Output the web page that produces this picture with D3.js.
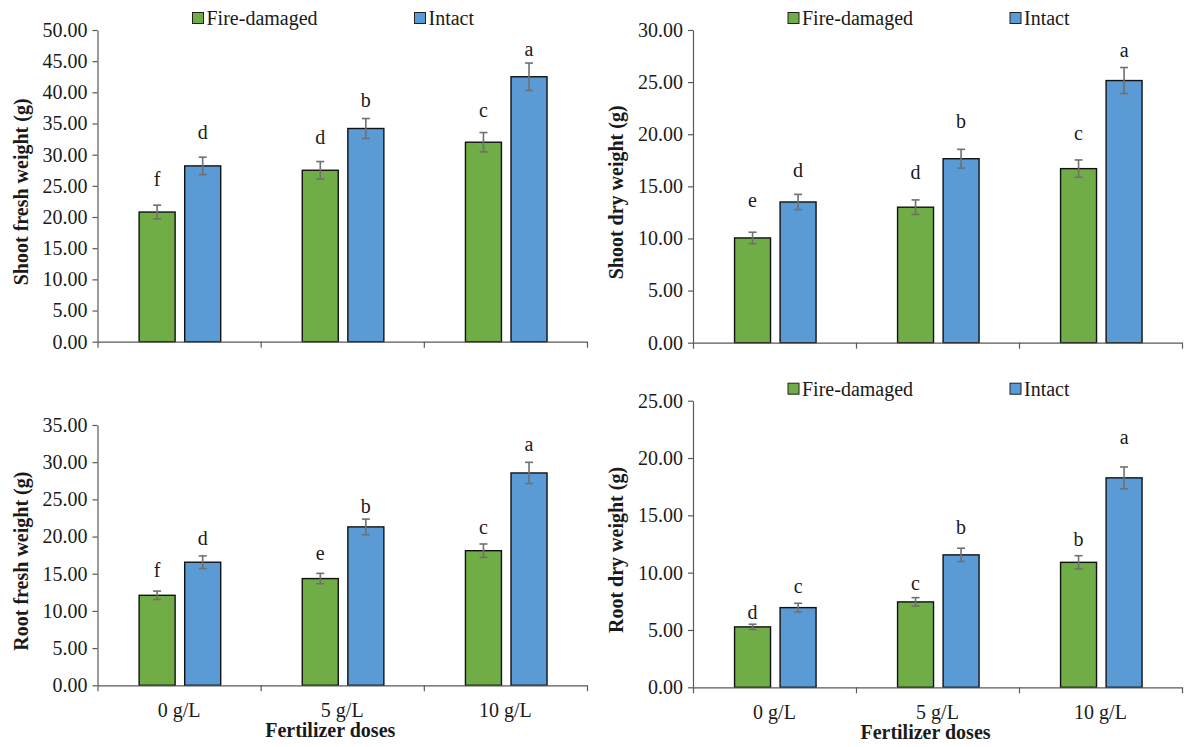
<!DOCTYPE html>
<html>
<head>
<meta charset="utf-8">
<script src="https://cdn.jsdelivr.net/npm/d3@7"></script>
<style>
  body { margin: 0; background: #fff; }
  svg text { font-family: "Liberation Serif", "Times New Roman", serif; fill: #1a1a1a; }
</style>
</head>
<body>
<svg id="root" width="1192" height="747"></svg>
<script>
// categories and series
const doses = ["0 g/L", "5 g/L", "10 g/L"]
const series = ["Fire-damaged", "Intact"]

// Shoot fresh weight (g)
const shootFreshFire = [20.8, 27.5, 32.0]
const shootFreshIntact = [28.2, 34.2, 42.5]
const shootFreshFireErr = [1.1, 1.4, 1.55]
const shootFreshIntactErr = [1.4, 1.6, 2.2]
const shootFreshFireLetters = ["f", "d", "c"]
const shootFreshIntactLetters = ["d", "b", "a"]
const shootFreshFireLetterAt = [25.0, 31.7, 36.1]
const shootFreshIntactLetterAt = [32.5, 37.6, 45.8]

// Shoot dry weight (g)
const shootDryFire = [10.05, 13.0, 16.7]
const shootDryIntact = [13.5, 17.65, 25.15]
const shootDryFireErr = [0.55, 0.7, 0.83]
const shootDryIntactErr = [0.73, 0.9, 1.25]
const shootDryFireLetters = ["e", "d", "c"]
const shootDryIntactLetters = ["d", "b", "a"]
const shootDryFireLetterAt = [13.0, 15.7, 19.45]
const shootDryIntactLetterAt = [15.9, 20.6, 27.4]

// Root fresh weight (g)
const rootFreshFire = [12.1, 14.35, 18.1]
const rootFreshIntact = [16.55, 21.3, 28.55]
const rootFreshFireErr = [0.57, 0.7, 0.9]
const rootFreshIntactErr = [0.85, 1.05, 1.43]
const rootFreshFireLetters = ["f", "e", "c"]
const rootFreshIntactLetters = ["d", "b", "a"]
const rootFreshFireLetterAt = [14.6, 16.9, 20.35]
const rootFreshIntactLetterAt = [18.85, 23.2, 31.5]

// Root dry weight (g)
const rootDryFire = [5.27, 7.45, 10.9]
const rootDryIntact = [6.95, 11.55, 18.27]
const rootDryFireErr = [0.23, 0.37, 0.58]
const rootDryIntactErr = [0.38, 0.58, 0.95]
const rootDryFireLetters = ["d", "c", "b"]
const rootDryIntactLetters = ["c", "b", "a"]
const rootDryFireLetterAt = [6.0, 8.5, 12.3]
const rootDryIntactLetterAt = [8.2, 13.4, 21.2]

// y axis ticks: [max, step]
const shootFreshTicks = [50, 5]
const shootDryTicks = [30, 5]
const rootFreshTicks = [35, 5]
const rootDryTicks = [25, 5]

const colors = { "Fire-damaged": "#70AD47", "Intact": "#5B9BD5" }
const fmt = d3.format(".2f")

function rows(fire, intact, fireErr, intactErr, fireLet, intactLet, fireAt, intactAt) {
  return doses.map((d, i) => ({
    dose: d,
    bars: [
      { s: series[0], v: fire[i], e: fireErr[i], l: fireLet[i], at: fireAt[i] },
      { s: series[1], v: intact[i], e: intactErr[i], l: intactLet[i], at: intactAt[i] }
    ]
  }))
}

const panels = [
  { title: "Shoot fresh weight (g)", ticks: shootFreshTicks, legend: true, xlabels: false,
    box: { left: 97.5, right: 587, top: 30, bottom: 341.7 },
    data: rows(shootFreshFire, shootFreshIntact, shootFreshFireErr, shootFreshIntactErr,
      shootFreshFireLetters, shootFreshIntactLetters, shootFreshFireLetterAt, shootFreshIntactLetterAt) },
  { title: "Shoot dry weight (g)", ticks: shootDryTicks, legend: true, xlabels: false,
    box: { left: 693, right: 1182, top: 30, bottom: 342.7 },
    data: rows(shootDryFire, shootDryIntact, shootDryFireErr, shootDryIntactErr,
      shootDryFireLetters, shootDryIntactLetters, shootDryFireLetterAt, shootDryIntactLetterAt) },
  { title: "Root fresh weight (g)", ticks: rootFreshTicks, legend: false, xlabels: true,
    box: { left: 97.5, right: 587, top: 425, bottom: 685.3 },
    data: rows(rootFreshFire, rootFreshIntact, rootFreshFireErr, rootFreshIntactErr,
      rootFreshFireLetters, rootFreshIntactLetters, rootFreshFireLetterAt, rootFreshIntactLetterAt) },
  { title: "Root dry weight (g)", ticks: rootDryTicks, legend: true, xlabels: true,
    box: { left: 693, right: 1182, top: 400.7, bottom: 687.3 },
    data: rows(rootDryFire, rootDryIntact, rootDryFireErr, rootDryIntactErr,
      rootDryFireLetters, rootDryIntactLetters, rootDryFireLetterAt, rootDryIntactLetterAt) }
]

const svg = d3.select("#root")

function drawPanel(p) {
  const b = p.box
  const g = svg.append("g")

  const x0 = d3.scaleBand().domain(doses).range([b.left, b.right]).padding(0)
  const bw = x0.bandwidth()
  const x1 = d3.scaleBand().domain(series).range([bw * 0.255, bw * 0.755]).paddingInner(0.21)
  const y = d3.scaleLinear().domain([0, p.ticks[0]]).range([b.bottom, b.top])

  // y axis
  const yAxis = d3.axisLeft(y)
    .tickValues(d3.range(0, p.ticks[0] + 0.001, p.ticks[1]))
    .tickFormat(fmt)
    .tickSize(5).tickSizeOuter(0).tickPadding(5)
  const ya = g.append("g").attr("transform", `translate(${b.left},0)`).call(yAxis)
  ya.selectAll("path, line").attr("stroke", "#595959").attr("stroke-width", 1.2)
  ya.selectAll("text").style("font-size", "20px").attr("fill", "#1a1a1a")

  // x axis: ticks at category boundaries
  const xb = d3.scaleLinear().domain([0, doses.length]).range([b.left, b.right])
  const xAxis = d3.axisBottom(xb).tickValues(d3.range(0, doses.length + 1))
    .tickFormat("").tickSize(6).tickSizeOuter(0)

  // bars
  const grp = g.selectAll(".grp").data(p.data).join("g")
    .attr("transform", d => `translate(${x0(d.dose)},0)`)
  grp.selectAll("rect").data(d => d.bars).join("rect")
    .attr("x", d => x1(d.s))
    .attr("y", d => y(d.v))
    .attr("width", x1.bandwidth())
    .attr("height", d => y(0) - y(d.v))
    .attr("fill", d => colors[d.s])
    .attr("stroke", "#111")
    .attr("stroke-width", 1.4)

  // error bars
  const cx = d => x1(d.s) + x1.bandwidth() / 2
  const eb = grp.selectAll(".err").data(d => d.bars).join("g").attr("class", "err")
    .attr("stroke", "#707070").attr("stroke-width", 1.6)
  eb.append("line").attr("x1", cx).attr("x2", cx)
    .attr("y1", d => y(d.v + d.e)).attr("y2", d => y(d.v - d.e))
  eb.append("line").attr("x1", d => cx(d) - 4).attr("x2", d => cx(d) + 4)
    .attr("y1", d => y(d.v + d.e)).attr("y2", d => y(d.v + d.e))
  eb.append("line").attr("x1", d => cx(d) - 4).attr("x2", d => cx(d) + 4)
    .attr("y1", d => y(d.v - d.e)).attr("y2", d => y(d.v - d.e))

  // significance letters
  grp.selectAll(".letter").data(d => d.bars).join("text").attr("class", "letter")
    .attr("x", cx)
    .attr("y", d => y(d.at))
    .attr("text-anchor", "middle")
    .style("font-size", "20px")
    .text(d => d.l)

  const xa = g.append("g").attr("transform", `translate(0,${b.bottom})`).call(xAxis)
  xa.selectAll("path, line").attr("stroke", "#595959").attr("stroke-width", 1.2)

  if (p.xlabels) {
    g.selectAll(".xl").data(doses).join("text")
      .attr("x", d => x0(d) + bw / 2)
      .attr("y", b.bottom + 32)
      .attr("text-anchor", "middle")
      .style("font-size", "20px")
      .text(d => d)
    g.append("text")
      .attr("x", (b.left + b.right) / 2 - 12)
      .attr("y", b.bottom + 52)
      .attr("text-anchor", "middle")
      .style("font-size", "20px")
      .style("font-weight", "bold")
      .text("Fertilizer doses")
  }

  // y axis title
  g.append("text")
    .attr("transform", `translate(${b.left - 77},${(b.top + b.bottom) / 2 + 6}) rotate(-90)`)
    .attr("text-anchor", "middle")
    .attr("dy", "0.35em")
    .style("font-size", "20px")
    .style("font-weight", "bold")
    .text(p.title)

  if (p.legend) {
    const lx = [95, 317]
    const lg = g.selectAll(".leg").data(series).join("g")
      .attr("transform", (d, i) => `translate(${b.left + lx[i]},${b.top - 12})`)
    lg.append("rect").attr("x", 0).attr("y", -5.5).attr("width", 11).attr("height", 11)
      .attr("fill", d => colors[d]).attr("stroke", "#222").attr("stroke-width", 1)
    lg.append("text").attr("x", 14).attr("dy", "0.35em")
      .style("font-size", "20px").text(d => d)
  }
}

panels.forEach(drawPanel)
</script>
</body>
</html>
